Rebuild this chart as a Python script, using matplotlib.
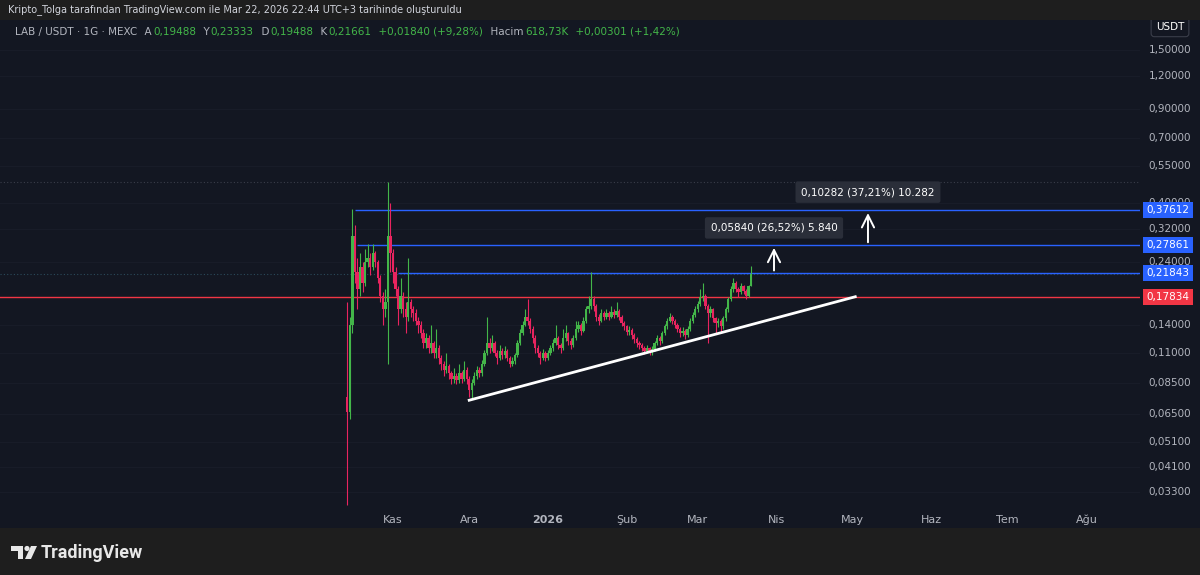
import pandas as pd
import matplotlib
matplotlib.use("Agg")
import matplotlib.pyplot as plt
import matplotlib.dates as mdates
from matplotlib.patches import Rectangle, Polygon, Circle
from matplotlib.transforms import IdentityTransform

plt.rcParams['font.family'] = ['Liberation Sans Narrow', 'DejaVu Sans']

# daily LAB/USDT candles (MEXC, 1G)
start_date = '2025-10-14'
first_open = 0.075
closes = [0.066, 0.14, 0.30, 0.22, 0.19, 0.23, 0.20, 0.24, 0.25, 0.23,
          0.26, 0.24, 0.21, 0.18, 0.16, 0.17, 0.30, 0.26, 0.22, 0.19,
          0.16, 0.18, 0.16, 0.15, 0.17, 0.16, 0.155, 0.145, 0.14, 0.13,
          0.12, 0.125, 0.115, 0.12, 0.11, 0.115, 0.105, 0.10, 0.095, 0.098,
          0.092, 0.088, 0.09, 0.087, 0.092, 0.088, 0.095, 0.088, 0.08, 0.085,
          0.09, 0.095, 0.092, 0.10, 0.11, 0.12, 0.115, 0.12, 0.11, 0.105,
          0.112, 0.108, 0.112, 0.105, 0.10, 0.102, 0.108, 0.12, 0.13, 0.14,
          0.15, 0.145, 0.135, 0.125, 0.115, 0.11, 0.105, 0.11, 0.105, 0.11,
          0.115, 0.12, 0.125, 0.118, 0.115, 0.125, 0.13, 0.122, 0.118, 0.125,
          0.135, 0.14, 0.133, 0.145, 0.16, 0.165, 0.175, 0.165, 0.15, 0.145,
          0.155, 0.15, 0.155, 0.15, 0.157, 0.152, 0.158, 0.15, 0.142, 0.138,
          0.132, 0.134, 0.128, 0.124, 0.12, 0.118, 0.115, 0.112, 0.115, 0.111,
          0.114, 0.12, 0.125, 0.122, 0.13, 0.138, 0.145, 0.15, 0.145, 0.14,
          0.135, 0.13, 0.133, 0.128, 0.135, 0.145, 0.152, 0.16, 0.168, 0.178,
          0.18, 0.165, 0.155, 0.16, 0.148, 0.142, 0.145, 0.138, 0.148, 0.16,
          0.175, 0.19, 0.20, 0.19, 0.185, 0.195, 0.188, 0.18, 0.19488, 0.21661]
highs = [0.17, 0.15, 0.38, 0.33, 0.25, 0.26, 0.24, 0.27, 0.28, 0.26,
         0.28, 0.265, 0.245, 0.215, 0.185, 0.19, 0.48, 0.40, 0.27, 0.23,
         0.195, 0.21, 0.185, 0.17, 0.25, 0.175, 0.165, 0.16, 0.15, 0.145,
         0.135, 0.13, 0.128, 0.14, 0.122, 0.135, 0.118, 0.108, 0.102, 0.11,
         0.10, 0.094, 0.096, 0.092, 0.10, 0.094, 0.102, 0.097, 0.09, 0.088,
         0.093, 0.098, 0.097, 0.103, 0.113, 0.15, 0.125, 0.128, 0.122, 0.113,
         0.118, 0.115, 0.117, 0.114, 0.107, 0.106, 0.11, 0.123, 0.135, 0.145,
         0.16, 0.175, 0.148, 0.138, 0.128, 0.118, 0.112, 0.114, 0.112, 0.113,
         0.118, 0.124, 0.14, 0.127, 0.12, 0.135, 0.14, 0.132, 0.125, 0.128,
         0.145, 0.145, 0.142, 0.15, 0.165, 0.18, 0.22, 0.18, 0.168, 0.153,
         0.16, 0.158, 0.16, 0.158, 0.165, 0.16, 0.17, 0.16, 0.152, 0.145,
         0.14, 0.138, 0.136, 0.13, 0.126, 0.122, 0.12, 0.117, 0.118, 0.116,
         0.117, 0.122, 0.128, 0.127, 0.133, 0.141, 0.148, 0.155, 0.152, 0.147,
         0.142, 0.137, 0.137, 0.135, 0.138, 0.148, 0.156, 0.164, 0.172, 0.19,
         0.20, 0.183, 0.168, 0.165, 0.162, 0.15, 0.148, 0.147, 0.151, 0.163,
         0.178, 0.195, 0.21, 0.205, 0.194, 0.20, 0.198, 0.19, 0.198, 0.23333]
lows = [0.0295, 0.062, 0.13, 0.20, 0.16, 0.18, 0.185, 0.195, 0.23, 0.215,
        0.225, 0.23, 0.20, 0.17, 0.14, 0.15, 0.10, 0.22, 0.20, 0.18,
        0.14, 0.155, 0.15, 0.13, 0.145, 0.15, 0.145, 0.14, 0.13, 0.125,
        0.115, 0.115, 0.11, 0.11, 0.105, 0.105, 0.10, 0.095, 0.09, 0.092,
        0.088, 0.084, 0.085, 0.084, 0.085, 0.085, 0.086, 0.084, 0.075, 0.074,
        0.083, 0.088, 0.089, 0.09, 0.098, 0.108, 0.11, 0.112, 0.107, 0.10,
        0.103, 0.104, 0.105, 0.102, 0.097, 0.098, 0.10, 0.106, 0.118, 0.128,
        0.138, 0.14, 0.13, 0.12, 0.11, 0.106, 0.10, 0.103, 0.102, 0.103,
        0.108, 0.112, 0.118, 0.114, 0.11, 0.113, 0.122, 0.118, 0.114, 0.116,
        0.123, 0.132, 0.128, 0.131, 0.142, 0.155, 0.16, 0.158, 0.145, 0.14,
        0.143, 0.146, 0.147, 0.146, 0.148, 0.148, 0.15, 0.146, 0.138, 0.134,
        0.128, 0.128, 0.124, 0.12, 0.116, 0.114, 0.112, 0.109, 0.11, 0.108,
        0.108, 0.112, 0.118, 0.118, 0.12, 0.128, 0.135, 0.143, 0.141, 0.136,
        0.131, 0.126, 0.127, 0.124, 0.126, 0.133, 0.142, 0.15, 0.157, 0.165,
        0.172, 0.16, 0.12, 0.15, 0.143, 0.13, 0.137, 0.13, 0.135, 0.145,
        0.157, 0.172, 0.186, 0.185, 0.178, 0.182, 0.183, 0.175, 0.178, 0.19488]

# drawn levels
blue_levels = [0.37612, 0.27861, 0.21843]
blue_starts = ['2025-10-17', '2025-10-18', '2025-11-03']
red_level = 0.17834
last_price = 0.21661
top_wick = 0.48

trend_dates = ['2025-12-01', '2026-05-02']
trend_prices = [0.073, 0.17834]

arrows = [('2026-03-31', 0.21843, 0.27861, '0,05840 (26,52%) 5.840', 0.323),
          ('2026-05-07', 0.27861, 0.37612, '0,10282 (37,21%) 10.282', 0.44)]

price_ticks = [1.5, 1.2, 0.9, 0.7, 0.55, 0.40, 0.32, 0.24, 0.14, 0.11,
               0.085, 0.065, 0.051, 0.041, 0.033]
month_starts = ['2025-11-01', '2025-12-01', '2026-01-01', '2026-02-01', '2026-03-01',
                '2026-04-01', '2026-05-01', '2026-06-01', '2026-07-01', '2026-08-01']
month_labels = ['Kas', 'Ara', '2026', 'Şub', 'Mar', 'Nis', 'May', 'Haz', 'Tem', 'Ağu']

BG = '#131722'
FRAME = '#1e1e1e'
GREEN = '#43b649'
RED = '#e8245f'
GREY = '#b2b5be'
BLUE = '#2962ff'
REDLINE = '#f23645'

fig = plt.figure(figsize=(12, 5.75), dpi=100, facecolor=BG)
ax = fig.add_axes([0, 67 / 575, 1140 / 1200, 486 / 575])
ax.set_facecolor(BG)
ax.set_yscale('log')
ax.set_ylim(0.0288, 1.91)
nov1 = mdates.date2num(pd.Timestamp('2025-11-01'))
ax.set_xlim(nov1 - 393 / 2.54, nov1 + 747 / 2.54)
for s in ax.spines.values():
    s.set_visible(False)

# faint grid at price ticks
for p in price_ticks:
    ax.axhline(p, color='#181c28', lw=0.8, zorder=0)

dates = mdates.date2num(pd.date_range(start_date, periods=len(closes)))
opens = [first_open] + closes[:-1]
for d, o, h, l, c in zip(dates, opens, highs, lows, closes):
    col = GREEN if c >= o else RED
    ax.vlines(d, l, h, color=col, lw=0.8, zorder=3)
    ax.bar(d, abs(c - o), bottom=min(o, c), width=0.9, color=col, lw=0, zorder=3)

# horizontal levels
xmax = ax.get_xlim()[1]
for lv, st in zip(blue_levels, blue_starts):
    ax.hlines(lv, mdates.date2num(pd.Timestamp(st)), xmax, color=BLUE, lw=1.0, zorder=2)
ax.axhline(red_level, color=REDLINE, lw=1.0, zorder=2)
ax.axhline(last_price, color='#2a4a5a', lw=0.8, ls=(0, (1, 2)), zorder=1)
ax.axhline(top_wick, color='#3a3e4a', lw=0.8, ls=(0, (1, 2)), zorder=1)

# trendline
ax.plot(mdates.date2num(pd.to_datetime(trend_dates)), trend_prices, color='white', lw=2, zorder=4)

# measurement arrows with labels
for dt, p0, p1, lab, ly in arrows:
    x = mdates.date2num(pd.Timestamp(dt))
    ax.annotate('', xy=(x, p1), xytext=(x, p0),
                arrowprops=dict(arrowstyle='->', color='white', lw=1.4, mutation_scale=22),
                zorder=5)
    ax.text(x, ly, lab, color='white', fontsize=7.5, ha='center', va='center', zorder=6,
            bbox=dict(boxstyle='round,pad=0.55,rounding_size=0.2', fc='#2a2e39', ec='none'))

# time axis
ax.set_xticks(mdates.date2num(pd.to_datetime(month_starts)))
ax.set_xticklabels(month_labels)
for t, lab in zip(ax.get_xticklabels(), month_labels):
    t.set_color(GREY)
    t.set_fontsize(8)
    if lab == '2026':
        t.set_fontweight('bold')
ax.tick_params(axis='x', length=0, pad=5)
ax.set_yticks([])
ax.minorticks_off()

# price scale on the right
ytr = ax.get_yaxis_transform()
px = 1170 / 1140
for p in price_ticks:
    ax.text(px, p, f'{p:.5f}'.replace('.', ','), transform=ytr, color=GREY, fontsize=7.5,
            ha='center', va='center', clip_on=False, zorder=5)
for lv, col in zip(blue_levels + [red_level], [BLUE] * 3 + [REDLINE]):
    ax.text(px - 2 / 1140, lv, f'{lv:.5f}'.replace('.', ','), transform=ytr, color='white',
            fontsize=7.5, ha='center', va='center', clip_on=False, zorder=7,
            bbox=dict(boxstyle='square,pad=0.3', fc=col, ec='none'))
ax.text(px, 1.91, 'USDT', transform=ytr, color='white', fontsize=7.5, ha='center', va='top',
        clip_on=False, zorder=7,
        bbox=dict(boxstyle='round,pad=0.45,rounding_size=0.3', fc='#131722', ec='#3a3e4a', lw=0.8))

# frame strips
fig.add_artist(Rectangle((0, 555 / 575), 1, 20 / 575, transform=fig.transFigure, fc=FRAME, ec='none'))
fig.add_artist(Rectangle((0, 0), 1, 47 / 575, transform=fig.transFigure, fc=FRAME, ec='none'))

ren = fig.canvas.get_renderer()
ident = IdentityTransform()


def text_run(x, y, pieces, size):
    for s, c in pieces:
        t = fig.text(x, y, s, color=c, fontsize=size, va='center', ha='left', transform=ident)
        x = t.get_window_extent(renderer=ren).x1 + 1


fig.text(8, 575 - 10, 'Kripto_Tolga tarafından TradingView.com ile Mar 22, 2026 22:44 UTC+3 tarihinde oluşturuldu',
         transform=ident, color='#d1d4dc', fontsize=7, va='center', ha='left')
text_run(15, 575 - 32, [('LAB / USDT · 1G · MEXC', GREY), ('  A', GREY), ('0,19488', GREEN),
                         ('  Y', GREY), ('0,23333', GREEN), ('  D', GREY), ('0,19488', GREEN),
                         ('  K', GREY), ('0,21661', GREEN), ('  +0,01840 (+9,28%)', GREEN),
                         ('  Hacim', GREY), ('618,73K', GREEN), ('  +0,00301 (+1,42%)', GREEN)], 7.5)

# TradingView logo
logo = '#e8e8e8'
fig.add_artist(Polygon([(11, 29), (23, 29), (23, 16), (18, 16), (18, 24), (11, 24)],
                       closed=True, transform=ident, fc=logo, ec='none'))
fig.add_artist(Circle((27, 26.5), 2.6, transform=ident, fc=logo, ec='none'))
fig.add_artist(Polygon([(31, 29), (37, 29), (31, 16), (25, 16)], closed=True,
                       transform=ident, fc=logo, ec='none'))
fig.text(41, 22, 'TradingView', transform=ident, color=logo, fontsize=13, fontweight='bold',
         family=['Roboto', 'DejaVu Sans'], va='center', ha='left')

fig.savefig('out.png', dpi=100, facecolor=BG)
